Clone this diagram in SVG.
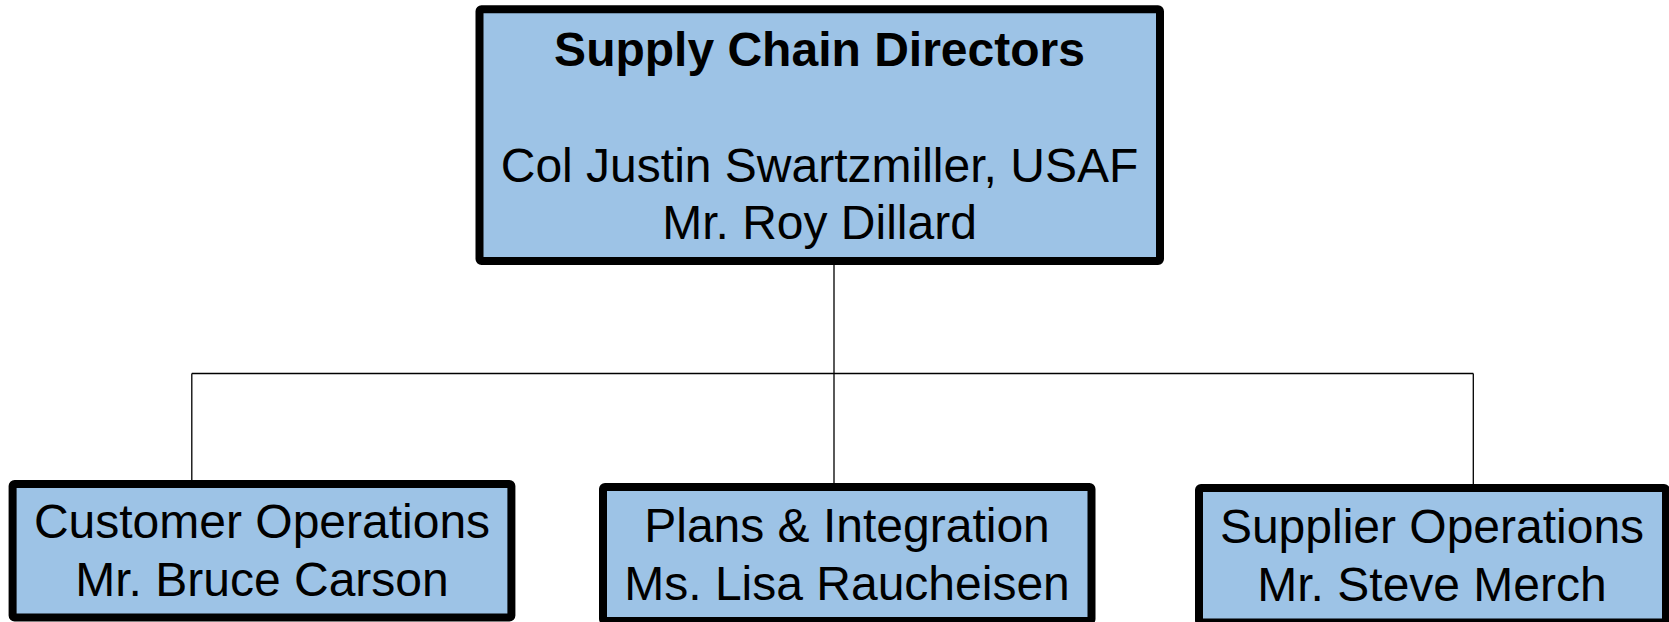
<svg xmlns="http://www.w3.org/2000/svg" width="1669" height="622" viewBox="0 0 1669 622">
<style>
.box{fill:#9DC3E6;stroke:#000;stroke-width:8;stroke-linejoin:round}
.t{font-family:"Liberation Sans",Arial,sans-serif;font-size:48px;fill:#000;text-anchor:middle}
.b{font-weight:bold}
.c{stroke:#000;stroke-width:1.3;fill:none}
</style>
<rect width="1669" height="622" fill="#fff"/>
<g id="connectors">
<path class="c" d="M834 265V373.5M191.8 373.5H1473.3M191.8 373.5V480M834 373.5V483M1473.3 373.5V484.5"/>
</g>
<g id="node-directors">
<rect class="box" x="479.5" y="9.3" width="680.5" height="251.7" rx="2"/>
<text class="t b" x="819.5" y="66">Supply Chain Directors</text>
<text class="t" x="819.5" y="181.7">Col Justin Swartzmiller, USAF</text>
<text class="t" x="819.5" y="239.3">Mr. Roy Dillard</text>
</g>
<g id="node-customer">
<rect class="box" x="12.6" y="484" width="498.8" height="133.5" rx="2"/>
<text class="t" x="262" y="537.5">Customer Operations</text>
<text class="t" x="262" y="595.5">Mr. Bruce Carson</text>
</g>
<g id="node-plans">
<rect class="box" x="603" y="487" width="488.5" height="134" rx="2"/>
<text class="t" x="847" y="541.5">Plans &amp; Integration</text>
<text class="t" x="847" y="599.5">Ms. Lisa Raucheisen</text>
</g>
<g id="node-supplier">
<rect class="box" x="1199" y="488" width="467" height="134.5" rx="2"/>
<text class="t" x="1432" y="543">Supplier Operations</text>
<text class="t" x="1432" y="600.5">Mr. Steve Merch</text>
</g>
</svg>
